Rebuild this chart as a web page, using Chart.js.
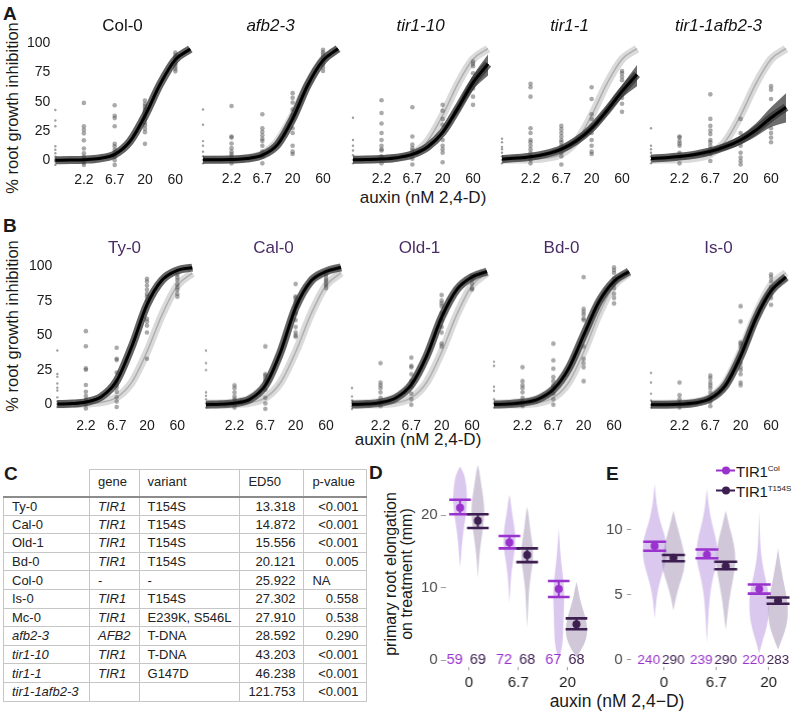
<!DOCTYPE html>
<html>
<head>
<meta charset="utf-8">
<script src="https://cdn.jsdelivr.net/npm/chart.js@4.4.1/dist/chart.umd.min.js"></script>
<style>
html, body { margin: 0; padding: 0; background: #fff; }
body { width: 797px; height: 715px; position: relative; overflow: hidden;
  font-family: "Liberation Sans", Arial, Helvetica, sans-serif; color: #1a1a1a; }
.t { position: absolute; white-space: nowrap; transform: translate(-50%, -50%); line-height: 1; }
.lab { position: absolute; font-weight: bold; font-size: 19px; line-height: 1; }
.rot { transform: translate(-50%, -50%) rotate(-90deg); text-align: center; }
.box { position: absolute; }
#tbl { position: absolute; left: 3px; top: 469px; border-collapse: collapse; table-layout: fixed;
  font-size: 13px; color: #222; }
#tbl td, #tbl th { border: 1px solid #c6c6c6; padding: 0 8px; font-weight: normal; text-align: left;
  white-space: nowrap; overflow: hidden; }
#tbl tr.hd { height: 27px; }
#tbl tr.hd th { vertical-align: top; padding-top: 4px; border-bottom: 2px solid #8c8c8c; }
#tbl tr.hd th.c0 { border-top: none; border-left: none; }
#tbl tr.r { height: 18.6px; }
#tbl .num { text-align: right; }
.leg { position: absolute; font-size: 15px; line-height: 1; white-space: nowrap; transform: translateY(-50%); letter-spacing: -0.2px; }
.leg sup { font-size: 8px; vertical-align: 6px; letter-spacing: 0; }
.mk { display: inline-block; position: relative; width: 19px; height: 10px; vertical-align: 1px; margin-right: 1px; }
.mk::before { content: ""; position: absolute; left: 0; right: 0; top: 4px; height: 2px; background: var(--c); }
.mk i { position: absolute; left: 5.5px; top: 1px; width: 8px; height: 8px; border-radius: 50%; background: var(--c); }
</style>
</head>
<body>

<div class="lab" style="left:3px;top:4px">A</div>
<div class="lab" style="left:3px;top:216px">B</div>
<div class="lab" style="left:4px;top:464px">C</div>
<div class="lab" style="left:369px;top:463px">D</div>
<div class="lab" style="left:606px;top:464px">E</div>

<div class="t rot" style="left:12px;top:108px;font-size:16.5px">% root growth inhibition</div>
<div class="t rot" style="left:12px;top:326px;font-size:16.5px">% root growth inhibition</div>
<div class="t" style="left:423px;top:197px;font-size:17px">auxin (nM 2,4-D)</div>
<div class="t" style="left:418px;top:439px;font-size:17px">auxin (nM 2,4-D)</div>
<div class="t" style="left:617px;top:702px;font-size:17.5px">auxin (nM 2,4&#8722;D)</div>
<div class="t rot" style="left:399px;top:574px;font-size:16px;line-height:16px">primary root elongation<br>on treatment (mm)</div>

<div class="leg" style="left:716px;top:471px"><span class="mk" style="--c:#9a32cd"><i></i></span>TIR1<sup>Col</sup></div>
<div class="leg" style="left:716px;top:491px"><span class="mk" style="--c:#3c1e50"><i></i></span>TIR1<sup>T154S</sup></div>

<table id="tbl">
<colgroup><col style="width:86px"><col style="width:49px"><col style="width:100px"><col style="width:64px"><col style="width:63px"></colgroup>
<tbody id="tbody"></tbody>
</table>

<script>
// ---------- dose-response panels (A, B) ----------
var doses = [0, 2.2, 6.7, 20, 60];
var xTickLabels = ['2.2', '6.7', '20', '60'];
var yTickValues = [0, 25, 50, 75, 100];
// sampling doses of the fitted curves (first one is where the 0 dose sits)
var curveDoses = [0.785, 1.36, 2.2, 3.84, 6.7, 11.6, 20, 34.6, 60, 103];

var fitCol0 = [0, 0.2, 0.5, 1.5, 5, 16, 38, 65, 86, 95];
var fitAfb23 = [0, 0.1, 0.3, 1.1, 4, 13, 35, 64, 85, 95];
var fitTir110 = [0.1, 0.3, 0.7, 1.8, 4.6, 11, 23.5, 44, 66, 82];
var loTir110 = [0, 0.1, 0.4, 1.2, 3.5, 9, 21, 40, 60, 72];
var hiTir110 = [0.2, 0.5, 1.0, 2.4, 6, 13, 26, 48, 72, 90];
var fitTir11 = [0.8, 1.5, 2.6, 5, 9.2, 16.4, 27, 42, 58.5, 73];
var loTir11 = [0.3, 0.8, 1.6, 3.5, 7.2, 13.8, 24, 38, 53, 63];
var hiTir11 = [1.4, 2.3, 3.6, 6.5, 11.2, 19, 30, 46, 64, 81];
var fitTir11afb23 = [1.1, 1.8, 2.8, 4.5, 7.2, 11.3, 17, 25.3, 36, 45];
var loTir11afb23 = [0.4, 0.9, 1.6, 2.8, 5, 8.3, 13, 20, 28, 32];
var hiTir11afb23 = [1.9, 2.8, 4.1, 6.3, 9.5, 14.5, 21, 31, 45, 57];
var fitTy0 = [0.15, 0.5, 1.6, 5.4, 17, 42, 72, 90, 97, 99];
var fitCal0 = [0.1, 0.4, 1.2, 4, 14, 38, 70, 89, 96, 99];
var fitOld1 = [0.2, 0.6, 1.6, 5, 14.5, 35, 63, 83, 92, 96];
var fitBd0 = [0.2, 0.6, 1.5, 4, 11, 26, 50, 74, 89, 96];
var fitIs0 = [0, 0.1, 0.4, 1.3, 4.5, 14, 35, 62, 82, 92];

// replicate measurements, one list per dose
var ptsCol0 = [[43, 34, 29, 12, 9, 6, 3, -1, -4, 0, 1], [49, 29, 26, 23, 17, 10, 6, 3, 0, -2, -4],
  [47, 38, 36, 29, 14, 12, 9, 6, 3, 0, -4], [51, 48, 46, 44, 42, 40, 38, 35, 32, 30, 27, 24, 14],
  [92, 90, 88, 86, 84, 82, 80, 78, 76]];
var ptsAfb23 = [[43, 30, 16, 12, 7, 3, 0, -3], [46, 20, 19, 14, 10, 7, 5, 3, 0, -3],
  [39, 27, 24, 21, 18, 16, 12, 7, 3, -3], [57, 53, 49, 43, 38, 35, 27, 23, 12, 7, 5],
  [94, 92, 90, 88, 85, 82, 79, 76]];
var ptsTir110 = [[36, 17, 12, 8, 4, 0, -3], [51, 40, 31, 23, 17, 12, 9, 8, 3, -3],
  [45, 20, 13, 10, 8, 5, 1, -4], [47, 42, 35, 30, 17, 12, 9, 6, -2],
  [84, 82, 80, 74, 69, 61, 54, 47]];
var ptsTir11 = [[18, 15, 11, 9, 6, 3, 0, -3], [65, 62, 54, 27, 23, 17, 15, 12, 9, 6, 3, 0, -3],
  [29, 26, 23, 20, 17, 15, 12, 9, 6, 3, -4], [62, 52, 39, 35, 29, 23, 17, 12, 7, 5],
  [76, 74, 71, 68, 60, 53, 48, 41]];
var ptsTir11afb23 = [[27, 12, 9, 6, 3, 0, -3], [20, 19, 16, 14, 12, 6, 2, -3],
  [56, 35, 29, 25, 22, 17, 15, 12, 9, 5, -1], [35, 23, 17, 12, 6, 2, -1, -4],
  [63, 60, 52, 27, 23, 19, 15]];
var ptsTy0 = [[39, 22, 20, 15, 12, 10, 5, 2, 0, -2], [53, 42, 26, 25, 14, 9, 6, 3, 0, -3],
  [41, 33, 32, 23, 17, 15, 14, 12, 9, 5, 2, -2], [91, 89, 86, 83, 80, 78, 75, 62, 60, 57, 52, 33],
  [94, 92, 90, 87, 85, 83, 80, 78]];
var ptsCal0 = [[39, 30, 25, 9, 6.5, 4, 1, -2], [14, 12, 9, 6, 4, 1, -2],
  [42, 22, 21, 19, 17, 11, 5, 1, -3], [87, 78, 77, 75, 73, 71, 66, 61, 56, 52, 50, 49],
  [94, 92, 90, 89, 87, 86, 84]];
var ptsOld1 = [[12, 6, 3, 1, -1, -3], [30, 16, 14, 12, 9, 5, 2, -1],
  [34, 28, 27, 22, 17, 13, 8, 4, 0], [79, 75, 73, 71, 66, 61, 56, 52, 44, 42],
  [93, 92, 90, 87, 84, 83]];
var ptsBd0 = [[31, 28, 13, 10, 4, 1, -2], [27, 17, 14, 12, 9, 5, 2, -1],
  [44, 32, 26, 20, 17, 14, 12, 8, 4, 0], [92, 69, 67, 65, 62, 61, 42, 33, 30, 27, 17],
  [99, 97, 95, 91, 87, 84, 80, 77, 73]];
var ptsIs0 = [[23, 16, 8, 3, 0, -2], [16, 7, 4, 1, -2],
  [21, 19, 16, 14, 12, 9, 5, 2, -1], [71, 60, 45, 44, 42, 30, 27, 25, 22, 16, 14],
  [94, 92, 89, 85, 80, 77, 72]];

var panelsA = [
  {title: 'Col-0', it: false, fit: fitCol0, pts: ptsCol0, ref: false},
  {title: 'afb2-3', it: true, fit: fitAfb23, pts: ptsAfb23, ref: true},
  {title: 'tir1-10', it: true, fit: fitTir110, lo: loTir110, hi: hiTir110, pts: ptsTir110, ref: true},
  {title: 'tir1-1', it: true, fit: fitTir11, lo: loTir11, hi: hiTir11, pts: ptsTir11, ref: true},
  {title: 'tir1-1afb2-3', it: true, fit: fitTir11afb23, lo: loTir11afb23, hi: hiTir11afb23, pts: ptsTir11afb23, ref: true}
];
var panelsB = [
  {title: 'Ty-0', fit: fitTy0, pts: ptsTy0, ref: true},
  {title: 'Cal-0', fit: fitCal0, pts: ptsCal0, ref: true},
  {title: 'Old-1', fit: fitOld1, pts: ptsOld1, ref: true},
  {title: 'Bd-0', fit: fitBd0, pts: ptsBd0, ref: true},
  {title: 'Is-0', fit: fitIs0, pts: ptsIs0, ref: true}
];

// ---------- table (C) ----------
var tblLines = ['Ty-0', 'Cal-0', 'Old-1', 'Bd-0', 'Col-0', 'Is-0', 'Mc-0', 'afb2-3', 'tir1-10', 'tir1-1', 'tir1-1afb2-3'];
var tblGene = ['TIR1', 'TIR1', 'TIR1', 'TIR1', '-', 'TIR1', 'TIR1', 'AFB2', 'TIR1', 'TIR1', ''];
var tblVariant = ['T154S', 'T154S', 'T154S', 'T154S', '-', 'T154S', 'E239K, S546L', 'T-DNA', 'T-DNA', 'G147D', ''];
var tblED50 = ['13.318', '14.872', '15.556', '20.121', '25.922', '27.302', '27.910', '28.592', '43.203', '46.238', '121.753'];
var tblP = ['<0.001', '<0.001', '<0.001', '0.005', 'NA', '0.558', '0.538', '0.290', '<0.001', '<0.001', '<0.001'];
var mutantLines = ['afb2-3', 'tir1-10', 'tir1-1', 'tir1-1afb2-3'];

// ---------- root elongation (D, E) ----------
var groupLabels = ['0', '6.7', '20'];
var dColMean = [21.0, 16.2, 9.8], dColLo = [20.1, 15.4, 8.7], dColHi = [22.1, 17.1, 10.9];
var dTMean = [19.2, 14.5, 4.95], dTLo = [18.2, 13.5, 4.25], dTHi = [20.1, 15.4, 5.75];
var dColN = [59, 72, 67], dTN = [69, 68, 68];
var eColMean = [8.77, 8.1, 5.45], eColLo = [8.4, 7.82, 5.1], eColHi = [9.1, 8.5, 5.8];
var eTMean = [7.87, 7.2, 4.55], eTLo = [7.6, 6.98, 4.33], eTHi = [8.07, 7.56, 4.8];
var eColN = [240, 239, 220], eTN = [290, 290, 283];
// violin outlines: value levels and relative density
var violinDCol = [
  {y: [12.8, 14, 15.6, 17, 18.3, 19.5, 21, 22.5, 24, 25, 25.8, 26.7], w: [0, 0.08, 0.16, 0.26, 0.38, 0.52, 0.66, 0.7, 0.62, 0.5, 0.35, 0]},
  {y: [7.9, 9.5, 11, 12.5, 14, 15.5, 17, 18.5, 20, 21.2, 22.2, 22.8], w: [0, 0.07, 0.13, 0.24, 0.4, 0.57, 0.6, 0.48, 0.3, 0.18, 0.09, 0]},
  {y: [0, 1.5, 3, 4.5, 6, 7.5, 9, 10.5, 12, 13.5, 15, 16.5, 18.2], w: [0, 0.3, 0.42, 0.45, 0.48, 0.52, 0.55, 0.5, 0.38, 0.25, 0.15, 0.08, 0]}
];
var violinDT = [
  {y: [11.3, 13, 14.5, 16, 17.5, 19, 20.5, 22, 23.5, 25, 26, 26.9], w: [0, 0.08, 0.16, 0.29, 0.45, 0.58, 0.65, 0.58, 0.42, 0.26, 0.16, 0]},
  {y: [4.4, 6, 8, 10, 12, 13.5, 15, 16.5, 18, 19.5, 20.5, 21.1], w: [0, 0.06, 0.12, 0.21, 0.39, 0.57, 0.6, 0.48, 0.3, 0.18, 0.09, 0]},
  {y: [0.4, 1.2, 2, 3, 4, 5, 6, 7, 8, 9, 10, 10.8], w: [0, 0.38, 0.7, 0.98, 1.08, 1.02, 0.86, 0.65, 0.43, 0.27, 0.13, 0]}
];
var violinECol = [
  {y: [3.2, 4.5, 5.5, 6.5, 7.5, 8.5, 9.5, 10.5, 11.5, 12.5, 13.6], w: [0, 0.15, 0.35, 0.7, 1.1, 1.2, 1.05, 0.6, 0.3, 0.12, 0]},
  {y: [1.3, 2.5, 3.5, 4.5, 5.5, 6.5, 7.5, 8.5, 9.5, 10.5, 11.5, 12.4, 13.2], w: [0, 0.08, 0.15, 0.25, 0.4, 0.65, 1.0, 1.05, 0.85, 0.5, 0.25, 0.1, 0]},
  {y: [0.5, 1.5, 2.5, 3.5, 4.5, 5.5, 6.5, 7.5, 8.5, 9.5, 10.5, 11.4], w: [0, 0.35, 0.75, 0.95, 1.0, 0.85, 0.55, 0.3, 0.15, 0.08, 0.04, 0]}
];
var violinET = [
  {y: [3.8, 4.8, 5.8, 6.8, 7.8, 8.8, 9.8, 10.7, 11.5], w: [0, 0.25, 0.6, 1.05, 1.15, 0.9, 0.55, 0.25, 0]},
  {y: [2.3, 3.3, 4.3, 5.3, 6.3, 7.3, 8.3, 9.3, 10.3, 11.5], w: [0, 0.15, 0.3, 0.5, 0.75, 0.95, 0.95, 0.7, 0.35, 0]},
  {y: [0.8, 1.7, 2.6, 3.5, 4.4, 5.3, 6.2, 7.1, 7.9, 8.6], w: [0, 0.45, 0.85, 1.0, 0.95, 0.75, 0.5, 0.3, 0.12, 0]}
];
var dTicks = [0, 10, 20];
var eTicks = [0, 5, 10];

// ---------- layout / style ----------
var FONT = '"Liberation Sans", Arial, Helvetica, sans-serif';
Chart.defaults.font.family = FONT;
Chart.defaults.color = '#1a1a1a';
var COL = '#9a32cd', T154 = '#3c1e50';
var violinPx = 10, capHalf = 0.22;

var rowA = {lefts: [55, 203, 353, 502, 651], w: 135, top: 37.15, h: 132.2, yMin: -8, yMax: 105, titleY: 25, color: '#111'};
var rowB = {lefts: [57, 206, 352, 494, 651], w: 135, top: 259.1, h: 155.9, yMin: -8, yMax: 105, titleY: 247, color: '#4a2c66'};

function makeChart(box, config) {
  var wrap = document.createElement('div');
  wrap.className = 'box';
  wrap.style.left = (box.x - 60) + 'px';
  wrap.style.top = (box.y - 20) + 'px';
  wrap.style.width = (box.w + 80) + 'px';
  wrap.style.height = (box.h + 50) + 'px';
  var cv = document.createElement('canvas');
  wrap.appendChild(cv);
  document.body.appendChild(wrap);
  var chart = new Chart(cv, config);
  // shift / resize the wrapper so the plot area lands on the box
  for (var k = 0; k < 3; k++) {
    var a = chart.chartArea;
    var l = a.left, t = a.top, r = chart.width - a.right, b = chart.height - a.bottom;
    wrap.style.left = (box.x - l) + 'px';
    wrap.style.top = (box.y - t) + 'px';
    wrap.style.width = (box.w + l + r) + 'px';
    wrap.style.height = (box.h + t + b) + 'px';
    chart.resize();
  }
  return chart;
}

function curve(vals, color, width, order) {
  return {
    data: curveDoses.map(function (d, i) { return {x: d, y: vals[i]}; }),
    showLine: true, borderColor: color, borderWidth: width, pointRadius: 0,
    cubicInterpolationMode: 'monotone', fill: false, order: order, clip: false
  };
}

function doseConfig(p, row, showY) {
  var ds = [];
  ds.push(curve(p.fit, '#000', 3, 0));
  ds.push(curve(p.fit, 'rgba(55,55,55,0.78)', 8, 1));
  if (p.lo) {
    var lo = curve(p.lo, 'rgba(0,0,0,0)', 1, 2);
    var hi = curve(p.hi, 'rgba(0,0,0,0)', 1, 2);
    hi.fill = '-1';
    hi.backgroundColor = 'rgba(60,60,60,0.75)';
    ds.push(lo, hi);
  }
  var pz = [], pd = [];
  p.pts.forEach(function (vals, j) {
    vals.forEach(function (v) {
      if (j === 0) pz.push({x: curveDoses[0], y: v});
      else pd.push({x: doses[j], y: v});
    });
  });
  ds.push({data: pd, pointRadius: 2.3, pointBackgroundColor: 'rgba(85,85,85,0.5)', pointBorderWidth: 0, order: 3, clip: false});
  ds.push({data: pz, pointRadius: 1.2, pointBackgroundColor: 'rgba(95,95,95,0.6)', pointBorderWidth: 0, order: 3, clip: false});
  if (p.ref) {
    ds.push(curve(fitCol0, 'rgba(170,170,170,0.9)', 1.5, 4));
    ds.push(curve(fitCol0, 'rgba(205,205,205,0.75)', 8, 5));
  }
  return {
    type: 'scatter',
    data: {datasets: ds},
    options: {
      responsive: true, maintainAspectRatio: false, animation: false, events: [],
      layout: {padding: 0},
      plugins: {legend: {display: false}, tooltip: {enabled: false}},
      scales: {
        x: {
          type: 'logarithmic', min: curveDoses[0], max: curveDoses[curveDoses.length - 1],
          afterBuildTicks: function (s) { s.ticks = doses.slice(1).map(function (v) { return {value: v}; }); },
          ticks: {autoSkip: false, maxRotation: 0, padding: 2, color: '#1a1a1a', font: {size: 14},
            callback: function (v, i) { return xTickLabels[i]; }},
          grid: {display: false, drawTicks: false}, border: {display: false}
        },
        y: {
          display: showY, min: row.yMin, max: row.yMax,
          afterBuildTicks: function (s) { s.ticks = yTickValues.map(function (v) { return {value: v}; }); },
          ticks: {padding: 5, color: '#1a1a1a', font: {size: 14}},
          grid: {display: false, drawTicks: false}, border: {display: false}
        }
      }
    }
  };
}

function drawRow(panels, row) {
  panels.forEach(function (p, i) {
    var box = {x: row.lefts[i], y: row.top, w: row.w, h: row.h};
    makeChart(box, doseConfig(p, row, i === 0));
    var d = document.createElement('div');
    d.className = 't';
    d.style.left = (box.x + box.w / 2) + 'px';
    d.style.top = row.titleY + 'px';
    d.style.fontSize = '17px';
    d.style.color = row.color;
    if (p.it) d.style.fontStyle = 'italic';
    d.textContent = p.title;
    document.body.appendChild(d);
  });
}
drawRow(panelsA, rowA);
drawRow(panelsB, rowB);

// ---------- table ----------
(function () {
  var tb = document.getElementById('tbody');
  var html = '<tr class="hd"><th class="c0"></th><th>gene</th><th>variant</th><th>ED50</th><th>p-value</th></tr>';
  tblLines.forEach(function (name, i) {
    var it = mutantLines.indexOf(name) >= 0 ? ' style="font-style:italic"' : '';
    var git = tblGene[i] && tblGene[i] !== '-' ? ' style="font-style:italic"' : '';
    var pc = tblP[i] === 'NA' ? '' : ' class="num"';
    html += '<tr class="r"><td' + it + '>' + name + '</td><td' + git + '>' + tblGene[i] + '</td><td>' +
      tblVariant[i] + '</td><td class="num">' + tblED50[i] + '</td><td' + pc + '>' +
      tblP[i].replace('<', '&lt;') + '</td></tr>';
  });
  tb.innerHTML = html;
})();

// ---------- D / E ----------
function smoothLoop(ctx, pts) {
  var n = pts.length;
  ctx.moveTo((pts[n - 1].x + pts[0].x) / 2, (pts[n - 1].y + pts[0].y) / 2);
  for (var k = 0; k < n; k++) {
    var p = pts[k], q = pts[(k + 1) % n];
    ctx.quadraticCurveTo(p.x, p.y, (p.x + q.x) / 2, (p.y + q.y) / 2);
  }
  ctx.closePath();
}

function groupPlugin(g) {
  return {
    id: 'violins',
    beforeDatasetsDraw: function (chart) {
      var ctx = chart.ctx, xs = chart.scales.x, ys = chart.scales.y;
      ctx.save();
      g.series.forEach(function (s) {
        s.violins.forEach(function (v, i) {
          var cx = xs.getPixelForValue(i + s.off), pts = [], k;
          for (k = 0; k < v.y.length; k++) pts.push({x: cx + v.w[k] * violinPx, y: ys.getPixelForValue(v.y[k])});
          for (k = v.y.length - 1; k >= 0; k--) pts.push({x: cx - v.w[k] * violinPx, y: ys.getPixelForValue(v.y[k])});
          ctx.beginPath();
          smoothLoop(ctx, pts);
          ctx.fillStyle = s.fill;
          ctx.fill();
        });
      });
      g.series.forEach(function (s) {
        ctx.strokeStyle = s.color;
        s.mean.forEach(function (m, i) {
          var cx = xs.getPixelForValue(i + s.off);
          var x0 = xs.getPixelForValue(i + s.off - capHalf), x1 = xs.getPixelForValue(i + s.off + capHalf);
          var yl = ys.getPixelForValue(s.lo[i]), yh = ys.getPixelForValue(s.hi[i]);
          ctx.lineWidth = 2;
          ctx.beginPath(); ctx.moveTo(cx, yl); ctx.lineTo(cx, yh); ctx.stroke();
          ctx.lineWidth = 2.6;
          ctx.beginPath();
          ctx.moveTo(x0, yl); ctx.lineTo(x1, yl);
          ctx.moveTo(x0, yh); ctx.lineTo(x1, yh);
          ctx.stroke();
        });
      });
      ctx.font = g.nFont + 'px ' + FONT;
      ctx.textAlign = 'center';
      ctx.textBaseline = 'middle';
      g.series.forEach(function (s) {
        ctx.fillStyle = s.nColor;
        s.n.forEach(function (n, i) {
          ctx.fillText(String(n), xs.getPixelForValue(i + s.nOff), ys.getPixelForValue(0));
        });
      });
      ctx.restore();
    }
  };
}

function groupConfig(g) {
  return {
    type: 'scatter',
    data: {datasets: g.series.map(function (s) {
      return {data: s.mean.map(function (m, i) { return {x: i + s.off, y: m}; }),
        pointRadius: 4, pointBackgroundColor: s.color, pointBorderWidth: 0, clip: false};
    })},
    options: {
      responsive: true, maintainAspectRatio: false, animation: false, events: [],
      layout: {padding: 0},
      plugins: {legend: {display: false}, tooltip: {enabled: false}},
      scales: {
        x: {
          type: 'linear', min: g.xMin, max: g.xMax,
          afterBuildTicks: function (s) { s.ticks = groupLabels.map(function (l, i) { return {value: i}; }); },
          ticks: {autoSkip: false, maxRotation: 0, padding: 4, color: '#1a1a1a', font: {size: 15},
            callback: function (v, i) { return groupLabels[i]; }},
          grid: {drawOnChartArea: false, tickLength: 3, color: '#a0a0a0'}, border: {display: false}
        },
        y: {
          min: g.yMin, max: g.yMax,
          afterBuildTicks: function (s) { s.ticks = g.ticks.map(function (v) { return {value: v}; }); },
          ticks: {padding: g.tickPad, color: '#4a4a4a', font: {size: 15}},
          grid: {drawOnChartArea: false, tickLength: g.tickLen, color: '#a0a0a0'}, border: {display: false}
        }
      }
    },
    plugins: [groupPlugin(g)]
  };
}

var colFill = 'rgba(196,166,228,0.62)', tFill = 'rgba(150,132,168,0.45)';
var panelD = {
  xMin: -0.469, xMax: 2.469, yMin: -1, yMax: 28, ticks: dTicks, tickLen: 5, tickPad: 3, nFont: 14.5,
  series: [
    {mean: dColMean, lo: dColLo, hi: dColHi, n: dColN, violins: violinDCol, off: -0.18, nOff: -0.29, color: COL, nColor: COL, fill: colFill},
    {mean: dTMean, lo: dTLo, hi: dTHi, n: dTN, violins: violinDT, off: 0.18, nOff: 0.18, color: T154, nColor: T154, fill: tFill}
  ]
};
var panelE = {
  xMin: -0.635, xMax: 2.557, yMin: -0.55, yMax: 15, ticks: eTicks, tickLen: 4, tickPad: 4, nFont: 13.5,
  series: [
    {mean: eColMean, lo: eColLo, hi: eColHi, n: eColN, violins: violinECol, off: -0.18, nOff: -0.29, color: COL, nColor: COL, fill: colFill},
    {mean: eTMean, lo: eTLo, hi: eTHi, n: eTN, violins: violinET, off: 0.18, nOff: 0.18, color: T154, nColor: T154, fill: tFill}
  ]
};
makeChart({x: 446, y: 457, w: 144, h: 210.25}, groupConfig(panelD));
makeChart({x: 631, y: 465, w: 166, h: 202.15}, groupConfig(panelE));
</script>
</body>
</html>
